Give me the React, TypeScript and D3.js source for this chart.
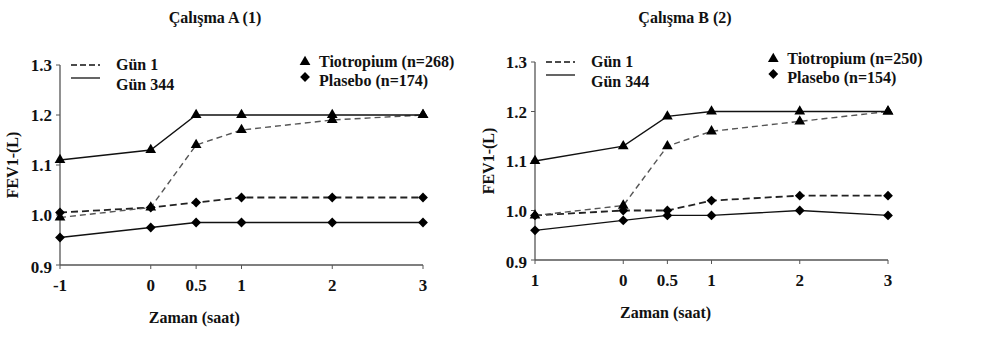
import * as d3 from "d3";

const X_VALUES = [-1, 0, 0.5, 1, 2, 3];
const Y_TICKS = [0.9, 1.0, 1.1, 1.2, 1.3];
const Y_TICK_LABELS = ["0.9", "1.0", "1.1", "1.2", "1.3"];

// Çalışma A (1)
const A_TIO_DAY1 = [0.995, 1.015, 1.14, 1.17, 1.19, 1.2];
const A_TIO_DAY344 = [1.11, 1.13, 1.2, 1.2, 1.2, 1.2];
const A_PLA_DAY1 = [1.005, 1.015, 1.025, 1.035, 1.035, 1.035];
const A_PLA_DAY344 = [0.955, 0.975, 0.985, 0.985, 0.985, 0.985];
const A_X_LABELS = ["-1", "0", "0.5", "1", "2", "3"];

// Çalışma B (2)
const B_TIO_DAY1 = [0.99, 1.01, 1.13, 1.16, 1.18, 1.2];
const B_TIO_DAY344 = [1.1, 1.13, 1.19, 1.2, 1.2, 1.2];
const B_PLA_DAY1 = [0.99, 1.0, 1.0, 1.02, 1.03, 1.03];
const B_PLA_DAY344 = [0.96, 0.98, 0.99, 0.99, 1.0, 0.99];
const B_X_LABELS = ["1", "0", "0.5", "1", "2", "3"];

const txt = (size: number) => ({
  fontFamily: "Liberation Serif",
  fontWeight: "bold",
  fontSize: size,
  fill: "#111",
});

type PanelProps = {
  title: string;
  tioLabel: string;
  plaLabel: string;
  xLabels: string[];
  tio1: number[];
  tio344: number[];
  pla1: number[];
  pla344: number[];
  left: number;
  right: number;
  top: number;
  bottom: number;
  ylabelX: number;
  titleX: number;
};

const Panel = (p: PanelProps) => {
  const xScale = d3.scaleLinear().domain([-1, 3]).range([p.left, p.right]);
  const yScale = d3.scaleLinear().domain([0.9, 1.3]).range([p.bottom, p.top]);
  const line = d3
    .line<number>()
    .x((_, i) => xScale(X_VALUES[i]))
    .y((d) => yScale(d));
  const tri = d3.symbol().type(d3.symbolTriangle).size(50)()!;
  // square turned 45° gives the wide diamond of the original
  const dia = d3.symbol().type(d3.symbolSquare).size(48)()!;
  const diaT = (x: number, y: number) => `translate(${x},${y}) rotate(45)`;

  const series = [
    { data: p.pla344, dash: null, color: "#111", w: 1.3, tri: false },
    { data: p.pla1, dash: "7,4", color: "#222", w: 1.8, tri: false },
    { data: p.tio1, dash: "6,4", color: "#555", w: 1.4, tri: true },
    { data: p.tio344, dash: null, color: "#111", w: 1.3, tri: true },
  ];

  const lx = p.left + 11;
  const rx = xScale(1.7);

  return (
    <g>
      <text x={p.titleX} y={23} textAnchor="middle" style={txt(16)}>
        {p.title}
      </text>
      <text
        transform={`translate(${p.ylabelX},${(p.top + p.bottom) / 2}) rotate(-90)`}
        textAnchor="middle"
        style={txt(16)}
      >
        FEV1-(L)
      </text>
      {Y_TICKS.map((t, i) => (
        <text key={t} x={p.left - 8} y={yScale(t) + 6 + (i === 0 ? 2 : 0)} textAnchor="end" style={txt(17)}>
          {Y_TICK_LABELS[i]}
        </text>
      ))}
      {X_VALUES.map((v, i) => (
        <text key={i} x={xScale(v)} y={p.bottom + 26} textAnchor="middle" style={txt(17)}>
          {p.xLabels[i]}
        </text>
      ))}
      <text x={xScale(0.48)} y={p.bottom + 58} textAnchor="middle" style={txt(16)}>
        Zaman (saat)
      </text>
      <text x={lx + 45} y={p.top + 5} style={txt(16)}>
        Gün 1
      </text>
      <text x={lx + 45} y={p.top + 25} style={txt(16)}>
        Gün 344
      </text>
      <text x={rx + 14} y={p.top + 2} style={txt(16)}>
        {p.tioLabel}
      </text>
      <text x={rx + 14} y={p.top + 21} style={txt(16)}>
        {p.plaLabel}
      </text>

      {/* axes */}
      <line x1={p.left} x2={p.left} y1={p.top} y2={p.bottom} stroke="#555" strokeWidth={1.3} />
      <line x1={p.left} x2={p.right} y1={p.bottom} y2={p.bottom} stroke="#555" strokeWidth={1.3} />
      {Y_TICKS.map((t) => (
        <line key={t} x1={p.left - 4} x2={p.left} y1={yScale(t)} y2={yScale(t)} stroke="#555" />
      ))}
      {X_VALUES.map((v, i) => (
        <line key={i} x1={xScale(v)} x2={xScale(v)} y1={p.bottom} y2={p.bottom + 4} stroke="#555" />
      ))}

      {/* lines and markers */}
      {series.map((s, si) => (
        <g key={si}>
          <path
            d={line(s.data) || ""}
            fill="none"
            stroke={s.color}
            strokeWidth={s.w}
            strokeDasharray={s.dash || undefined}
          />
          {s.data.map((d, i) =>
            s.tri ? (
              <path key={i} d={tri} transform={`translate(${xScale(X_VALUES[i])},${yScale(d)})`} fill="#000" />
            ) : (
              <path key={i} d={dia} transform={diaT(xScale(X_VALUES[i]), yScale(d))} fill="#000" />
            )
          )}
        </g>
      ))}

      {/* legend marks */}
      <line x1={lx} x2={lx + 29} y1={p.top} y2={p.top} stroke="#111" strokeWidth={1.6} strokeDasharray="6,3" />
      <line x1={lx} x2={lx + 29} y1={p.top + 13} y2={p.top + 13} stroke="#111" strokeWidth={1.3} />
      <path d={tri} transform={`translate(${rx},${p.top - 3})`} fill="#000" />
      <path d={dia} transform={diaT(rx, p.top + 12)} fill="#000" />
    </g>
  );
};

export default function App() {
  return (
    <svg
      width={990}
      height={354}
      style={{ position: "absolute", left: 0, top: 0, background: "white" }}
    >
      <Panel
        title="Çalışma A (1)"
        tioLabel="Tiotropium (n=268)"
        plaLabel="Plasebo (n=174)"
        xLabels={A_X_LABELS}
        tio1={A_TIO_DAY1}
        tio344={A_TIO_DAY344}
        pla1={A_PLA_DAY1}
        pla344={A_PLA_DAY344}
        left={60}
        right={423}
        top={65}
        bottom={265}
        ylabelX={18}
        titleX={215}
      />
      <Panel
        title="Çalışma B (2)"
        tioLabel="Tiotropium (n=250)"
        plaLabel="Plasebo (n=154)"
        xLabels={B_X_LABELS}
        tio1={B_TIO_DAY1}
        tio344={B_TIO_DAY344}
        pla1={B_PLA_DAY1}
        pla344={B_PLA_DAY344}
        left={535}
        right={888}
        top={62}
        bottom={260}
        ylabelX={494}
        titleX={685}
      />
    </svg>
  );
}
